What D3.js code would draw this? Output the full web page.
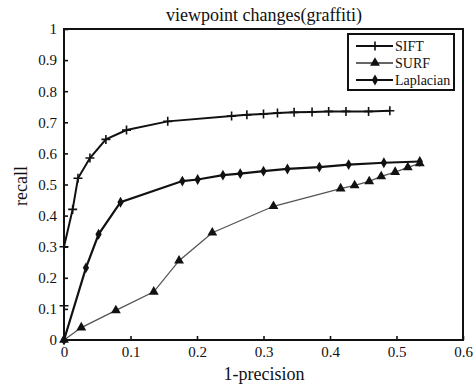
<!DOCTYPE html>
<html>
<head>
<meta charset="utf-8">
<script src="https://cdn.jsdelivr.net/npm/d3@7"></script>
<style>
  html, body { margin: 0; padding: 0; background: #fff; }
  svg { display: block; }
  text { font-family: "Liberation Serif", "Times New Roman", serif; fill: #111; }
</style>
</head>
<body>
<svg id="chart" width="476" height="385"></svg>
<script>
// Recall vs 1-precision for three descriptors
const siftX = [0, 0, 0.013, 0.021, 0.039, 0.063, 0.094, 0.156, 0.252, 0.275, 0.300, 0.321, 0.346, 0.373, 0.398, 0.424, 0.458, 0.490];
const siftY = [0.11, 0.30, 0.42, 0.52, 0.585, 0.645, 0.675, 0.703, 0.720, 0.724, 0.727, 0.730, 0.732, 0.733, 0.735, 0.735, 0.735, 0.737];

const surfX = [0, 0.026, 0.078, 0.135, 0.173, 0.223, 0.315, 0.416, 0.437, 0.459, 0.477, 0.498, 0.517, 0.535];
const surfY = [0, 0.04, 0.095, 0.155, 0.255, 0.345, 0.43, 0.487, 0.497, 0.51, 0.526, 0.54, 0.555, 0.568];

const lapX = [0, 0.033, 0.052, 0.085, 0.178, 0.201, 0.239, 0.265, 0.300, 0.336, 0.384, 0.428, 0.481, 0.535];
const lapY = [0, 0.232, 0.34, 0.443, 0.511, 0.516, 0.53, 0.535, 0.543, 0.55, 0.556, 0.564, 0.57, 0.574];

const xTicks = [0, 0.1, 0.2, 0.3, 0.4, 0.5, 0.6];
const yTicks = [0, 0.1, 0.2, 0.3, 0.4, 0.5, 0.6, 0.7, 0.8, 0.9, 1];
const seriesNames = ["SIFT", "SURF", "Laplacian"];

const svg = d3.select("#chart");
const m = { left: 64, right: 463, top: 29, bottom: 340 };

const x = d3.scaleLinear().domain([0, 0.6]).range([m.left, m.right]);
const y = d3.scaleLinear().domain([0, 1]).range([m.bottom, m.top]);

const fmt = d => d === 0 ? "0" : (d === 1 ? "1" : String(d));

// axes with inward ticks
const gx = svg.append("g").attr("transform", `translate(0,${m.bottom})`)
  .call(d3.axisBottom(x).tickValues(xTicks).tickFormat(fmt).tickSizeInner(-4).tickSizeOuter(0).tickPadding(8));
const gy = svg.append("g").attr("transform", `translate(${m.left},0)`)
  .call(d3.axisLeft(y).tickValues(yTicks).tickFormat(fmt).tickSizeInner(-4).tickSizeOuter(0).tickPadding(7));
[gx, gy].forEach(g => {
  g.select(".domain").remove();
  g.selectAll(".tick line").attr("stroke", "#111").attr("stroke-width", 1.6);
  g.selectAll(".tick text").style("font-size", "15px").style("font-family", "Liberation Serif, serif").attr("fill", "#111");
});
gx.selectAll(".tick text").attr("dy", "0.6em");

// plot frame
svg.append("rect")
  .attr("x", m.left).attr("y", m.top)
  .attr("width", m.right - m.left).attr("height", m.bottom - m.top)
  .attr("fill", "none").attr("stroke", "#111").attr("stroke-width", 2);

const line = d3.line().x(d => x(d[0])).y(d => y(d[1]));
const zip = (a, b) => a.map((v, i) => [v, b[i]]);

const sift = zip(siftX, siftY), surf = zip(surfX, surfY), lap = zip(lapX, lapY);

const triSym = d3.symbol().type(d3.symbolTriangle).size(42);
const diaSym = d3.symbol().type(d3.symbolDiamond).size(34);

function drawPlus(g, cx, cy, s) {
  g.append("path").attr("d", `M${cx - s},${cy}H${cx + s}M${cx},${cy - s}V${cy + s}`)
    .attr("stroke", "#111").attr("stroke-width", 1.6).attr("fill", "none");
}

// SURF: thin grey line with filled triangles
svg.append("path").datum(surf).attr("d", line)
  .attr("fill", "none").attr("stroke", "#555").attr("stroke-width", 1.3);
svg.append("g").selectAll("path").data(surf).join("path")
  .attr("d", triSym).attr("transform", d => `translate(${x(d[0])},${y(d[1])})`).attr("fill", "#111");

// Laplacian: thick line with filled diamonds
svg.append("path").datum(lap).attr("d", line)
  .attr("fill", "none").attr("stroke", "#111").attr("stroke-width", 2.2);
svg.append("g").selectAll("path").data(lap).join("path")
  .attr("d", diaSym).attr("transform", d => `translate(${x(d[0])},${y(d[1])})`).attr("fill", "#111");

// SIFT: thick line with plus markers
svg.append("path").datum(sift).attr("d", line)
  .attr("fill", "none").attr("stroke", "#111").attr("stroke-width", 2);
const gs = svg.append("g");
sift.forEach(d => drawPlus(gs, x(d[0]), y(d[1]), 4.5));

// title and axis labels
svg.append("text").attr("x", 264).attr("y", 21).attr("text-anchor", "middle")
  .style("font-size", "18px").text("viewpoint changes(graffiti)");
svg.append("text").attr("x", 264).attr("y", 380).attr("text-anchor", "middle")
  .style("font-size", "18px").text("1-precision");
svg.append("text").attr("transform", "translate(27,186) rotate(-90)").attr("text-anchor", "middle")
  .style("font-size", "18px").text("recall");

// legend
const lg = svg.append("g");
lg.append("rect").attr("x", 348).attr("y", 34).attr("width", 106).attr("height", 56)
  .attr("fill", "#fff").attr("stroke", "#111").attr("stroke-width", 2);
const ly = [46, 63, 80];
seriesNames.forEach((name, i) => {
  const yy = ly[i];
  lg.append("line").attr("x1", 356).attr("x2", 393).attr("y1", yy).attr("y2", yy)
    .attr("stroke", i === 1 ? "#333" : "#111").attr("stroke-width", i === 1 ? 1.5 : 2);
  if (i === 0) drawPlus(lg, 375, yy, 4.5);
  if (i === 1) lg.append("path").attr("d", triSym).attr("transform", `translate(375,${yy})`).attr("fill", "#111");
  if (i === 2) lg.append("path").attr("d", diaSym).attr("transform", `translate(375,${yy})`).attr("fill", "#111");
  lg.append("text").attr("x", 395).attr("y", yy).attr("dy", "0.35em")
    .style("font-size", "14px").text(name);
});
</script>
</body>
</html>
